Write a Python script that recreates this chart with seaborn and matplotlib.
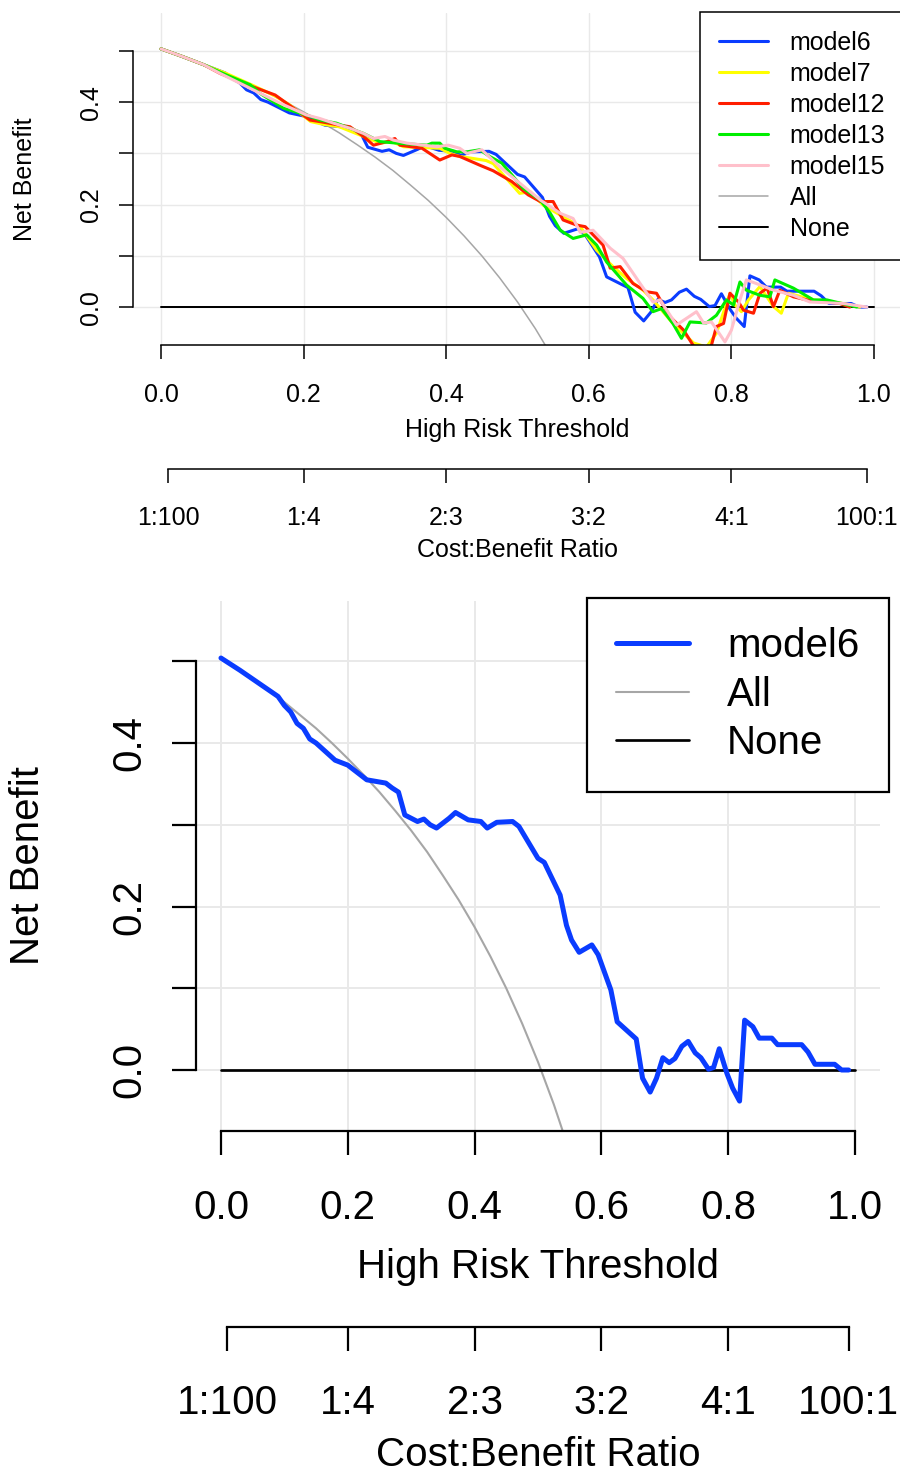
import matplotlib
matplotlib.use("Agg")
import matplotlib.pyplot as plt
import pandas as pd
import seaborn as sns
from matplotlib.lines import Line2D

# Curvas de beneficio neto (umbral, beneficio)
t6 = [0.00, 0.03, 0.06, 0.09, 0.10, 0.11, 0.12, 0.13, 0.14, 0.15, 0.18, 0.20,
      0.23, 0.26, 0.27, 0.28, 0.29, 0.31, 0.32, 0.33, 0.34, 0.36, 0.37, 0.39,
      0.41, 0.42, 0.435, 0.46, 0.47, 0.50, 0.51, 0.535, 0.545, 0.553, 0.565,
      0.585, 0.595, 0.615, 0.625, 0.655, 0.665, 0.677, 0.687, 0.697, 0.707,
      0.716, 0.727, 0.737, 0.748, 0.757, 0.769, 0.777, 0.786, 0.798, 0.807,
      0.818, 0.826, 0.839, 0.849, 0.869, 0.878, 0.916, 0.926, 0.937, 0.968,
      0.979, 0.99]
nb6 = [0.504, 0.489, 0.473, 0.457, 0.446, 0.438, 0.424, 0.418, 0.405, 0.400,
       0.379, 0.373, 0.355, 0.351, 0.345, 0.340, 0.312, 0.304, 0.307, 0.300,
       0.296, 0.308, 0.315, 0.306, 0.304, 0.296, 0.303, 0.304, 0.298, 0.259,
       0.254, 0.214, 0.177, 0.159, 0.144, 0.153, 0.141, 0.098, 0.059, 0.038,
       -0.010, -0.027, -0.010, 0.015, 0.009, 0.014, 0.029, 0.035, 0.021, 0.015,
       0.001, 0.003, 0.026, -0.004, -0.022, -0.038, 0.061, 0.053, 0.039, 0.039,
       0.031, 0.031, 0.022, 0.007, 0.007, 0.000, 0.000]

t7 = [0.00, 0.03, 0.06, 0.09, 0.13, 0.16, 0.18, 0.21, 0.23, 0.25, 0.284,
      0.307, 0.324, 0.34, 0.391, 0.405, 0.419, 0.438, 0.456, 0.466, 0.503,
      0.518, 0.536, 0.588, 0.611, 0.634, 0.653, 0.676, 0.69, 0.718, 0.747,
      0.765, 0.779, 0.798, 0.805, 0.814, 0.824, 0.84, 0.859, 0.87, 0.88,
      0.915, 0.957, 0.98]
nb7 = [0.504, 0.489, 0.473, 0.457, 0.432, 0.412, 0.395, 0.362, 0.356, 0.352,
       0.333, 0.320, 0.323, 0.313, 0.310, 0.300, 0.294, 0.290, 0.286, 0.280,
       0.222, 0.225, 0.199, 0.157, 0.111, 0.079, 0.056, 0.033, 0.014, -0.032,
       -0.070, -0.078, -0.051, 0.027, 0.004, -0.009, 0.014, 0.040, 0.001,
       -0.012, 0.027, 0.014, 0.007, 0.000]

t12 = [0.00, 0.03, 0.06, 0.083, 0.129, 0.16, 0.176, 0.209, 0.223, 0.251,
       0.265, 0.284, 0.298, 0.317, 0.328, 0.335, 0.366, 0.391, 0.408, 0.419,
       0.447, 0.466, 0.492, 0.515, 0.532, 0.55, 0.564, 0.583, 0.595, 0.62,
       0.63, 0.644, 0.662, 0.681, 0.695, 0.714, 0.733, 0.751, 0.77, 0.779,
       0.789, 0.798, 0.81, 0.817, 0.831, 0.84, 0.85, 0.859, 0.868, 0.887,
       0.906, 0.952, 0.966]
nb12 = [0.504, 0.489, 0.473, 0.456, 0.430, 0.414, 0.398, 0.365, 0.362, 0.355,
        0.352, 0.333, 0.316, 0.323, 0.329, 0.316, 0.310, 0.287, 0.297, 0.294,
        0.277, 0.266, 0.245, 0.219, 0.206, 0.206, 0.170, 0.160, 0.157, 0.121,
        0.076, 0.079, 0.046, 0.030, 0.027, -0.019, -0.045, -0.085, -0.085,
        -0.038, -0.032, 0.027, 0.010, -0.006, -0.012, 0.027, 0.037, 0.001,
        0.033, 0.020, 0.014, 0.007, 0.000]

t13 = [0.00, 0.03, 0.06, 0.092, 0.125, 0.139, 0.172, 0.204, 0.223, 0.246,
       0.284, 0.307, 0.331, 0.373, 0.38, 0.391, 0.398, 0.415, 0.429, 0.447,
       0.461, 0.478, 0.508, 0.532, 0.546, 0.56, 0.578, 0.597, 0.611, 0.625,
       0.653, 0.676, 0.69, 0.702, 0.718, 0.73, 0.742, 0.765, 0.779, 0.793,
       0.803, 0.812, 0.821, 0.84, 0.854, 0.861, 0.887, 0.915, 0.934, 0.976]
nb13 = [0.504, 0.489, 0.473, 0.453, 0.434, 0.417, 0.388, 0.375, 0.365, 0.359,
        0.339, 0.323, 0.320, 0.316, 0.320, 0.320, 0.310, 0.303, 0.303, 0.307,
        0.294, 0.281, 0.232, 0.209, 0.183, 0.150, 0.134, 0.141, 0.121, 0.088,
        0.043, 0.017, -0.009, -0.003, -0.032, -0.061, -0.029, -0.031, -0.016,
        0.014, 0.004, 0.049, 0.033, 0.023, 0.020, 0.053, 0.037, 0.014, 0.014,
        0.000]

t15 = [0.00, 0.03, 0.06, 0.083, 0.125, 0.167, 0.204, 0.223, 0.242, 0.265,
       0.284, 0.298, 0.314, 0.326, 0.345, 0.368, 0.387, 0.403, 0.419, 0.429,
       0.45, 0.475, 0.532, 0.56, 0.578, 0.588, 0.606, 0.63, 0.648, 0.672,
       0.69, 0.70, 0.723, 0.751, 0.761, 0.772, 0.791, 0.80, 0.812, 0.821,
       0.835, 0.859, 0.887, 0.91, 0.957, 0.99]
nb15 = [0.504, 0.489, 0.473, 0.456, 0.427, 0.398, 0.375, 0.368, 0.359, 0.349,
        0.339, 0.329, 0.333, 0.326, 0.320, 0.316, 0.313, 0.316, 0.310, 0.300,
        0.307, 0.274, 0.209, 0.183, 0.173, 0.146, 0.150, 0.115, 0.095, 0.046,
        0.010, 0.014, -0.035, -0.009, -0.031, -0.029, -0.068, -0.045, 0.014,
        0.053, 0.046, 0.033, 0.023, 0.010, 0.007, 0.000]

# Tratar a todos / a ninguno
t_all = [0.00, 0.025, 0.05, 0.075, 0.10, 0.125, 0.15, 0.175, 0.20, 0.225,
         0.25, 0.275, 0.30, 0.325, 0.35, 0.375, 0.40, 0.425, 0.45, 0.475,
         0.50, 0.525, 0.55]
nb_all = [0.505, 0.492, 0.479, 0.465, 0.450, 0.434, 0.418, 0.400, 0.381,
          0.361, 0.340, 0.317, 0.293, 0.267, 0.238, 0.208, 0.175, 0.139,
          0.100, 0.057, 0.010, -0.042, -0.100]
t_none = [0.0, 1.0]
nb_none = [0.0, 0.0]

model_names = ["model6", "model7", "model12", "model13", "model15"]
model_colors = ["#0a3cff", "#ffff00", "#ff1e00", "#00ee00", "#ffc0cb"]

x_ticks = [0.0, 0.2, 0.4, 0.6, 0.8, 1.0]
x_labels = ["0.0", "0.2", "0.4", "0.6", "0.8", "1.0"]
y_ticks = [0.0, 0.1, 0.2, 0.3, 0.4, 0.5]
y_labels = ["0.0", "", "0.2", "", "0.4", ""]
ratio_ticks = [0.0099, 0.2, 0.4, 0.6, 0.8, 0.99]
ratio_labels = ["1:100", "1:4", "2:3", "3:2", "4:1", "100:1"]

sns.set_style("ticks")
plt.rcParams["font.family"] = ["Liberation Sans", "DejaVu Sans"]
plt.rcParams["text.color"] = "black"
plt.rcParams["axes.labelcolor"] = "black"

frames = []
for name, t, nb in zip(model_names, [t6, t7, t12, t13, t15],
                       [nb6, nb7, nb12, nb13, nb15]):
    frames.append(pd.DataFrame({"umbral": t, "beneficio": nb, "modelo": name}))
df_models = pd.concat(frames, ignore_index=True)
df_all = pd.DataFrame({"umbral": t_all, "beneficio": nb_all})
df_none = pd.DataFrame({"umbral": t_none, "beneficio": nb_none})

W, H = 900, 1474
fig = plt.figure(figsize=(W / 100, H / 100), dpi=100)


def panel(rect_px, models, fs, lw_model, lw_thin, lw_axis, tick_len,
          xpad, ypad, rpad, sec_loc, xlab_y, rlab_y, ylab_x, leg):
    left, top, width, height = rect_px
    ax = fig.add_axes([left / W, 1 - (top + height) / H, width / W, height / H])

    sub = df_models[df_models["modelo"].isin(models)]
    pal = {n: c for n, c in zip(model_names, model_colors) if n in models}

    sns.lineplot(data=df_all, x="umbral", y="beneficio", color="#a6a6a6",
                 linewidth=lw_thin, estimator=None, ax=ax)
    sns.lineplot(data=df_none, x="umbral", y="beneficio", color="black",
                 linewidth=lw_thin * 1.3, estimator=None, ax=ax)
    sns.lineplot(data=sub, x="umbral", y="beneficio", hue="modelo",
                 hue_order=models, palette=pal, linewidth=lw_model,
                 estimator=None, legend=False, ax=ax)

    ax.set_xlim(-0.04, 1.04)
    ax.set_ylim(-0.074, 0.574)
    ax.set_xticks(x_ticks)
    ax.set_xticklabels(x_labels)
    ax.set_yticks(y_ticks)
    ax.set_yticklabels(y_labels, rotation=90, va="center")
    ax.grid(True, color="#e9e9e9", linewidth=lw_axis * 0.9)
    ax.set_axisbelow(True)

    for s in ["top", "right"]:
        ax.spines[s].set_visible(False)
    ax.spines["left"].set_bounds(0.0, 0.5)
    ax.spines["bottom"].set_bounds(0.0, 1.0)
    for s in ["left", "bottom"]:
        ax.spines[s].set_linewidth(lw_axis)
        ax.spines[s].set_color("black")
    ax.tick_params(axis="x", bottom=True, direction="out", length=tick_len,
                   width=lw_axis, pad=xpad, labelsize=fs, colors="black")
    ax.tick_params(axis="y", left=True, direction="out", length=tick_len,
                   width=lw_axis, pad=ypad, labelsize=fs, colors="black")

    ax.set_xlabel("High Risk Threshold", fontsize=fs)
    ax.xaxis.label.set_va("center")
    ax.xaxis.set_label_coords(0.5, xlab_y)
    ax.set_ylabel("Net Benefit", fontsize=fs)
    ax.yaxis.label.set_va("center")
    ax.yaxis.set_label_coords(ylab_x, 0.5)

    sec = ax.secondary_xaxis(sec_loc, functions=(lambda v: v, lambda v: v))
    sec.set_xticks(ratio_ticks)
    sec.set_xticklabels(ratio_labels)
    sec.spines["bottom"].set_bounds(ratio_ticks[0], ratio_ticks[-1])
    sec.spines["bottom"].set_linewidth(lw_axis)
    sec.spines["bottom"].set_color("black")
    sec.tick_params(axis="x", bottom=True, direction="out", length=tick_len,
                    width=lw_axis, pad=rpad, labelsize=fs, colors="black")
    sec.set_xlabel("Cost:Benefit Ratio", fontsize=fs)
    sec.xaxis.label.set_va("center")
    sec.xaxis.set_label_coords(0.5, rlab_y, transform=ax.transAxes)

    handles = []
    labels = []
    for n, c in zip(model_names, model_colors):
        if n in models:
            handles.append(Line2D([], [], color=c, linewidth=lw_model))
            labels.append(n)
    handles.append(Line2D([], [], color="#a6a6a6", linewidth=lw_thin))
    labels.append("All")
    handles.append(Line2D([], [], color="black", linewidth=lw_thin * 1.3))
    labels.append("None")

    anchor, loc, lfs, hl, htp, bp, ls, flw = leg
    lg = fig.legend(handles, labels, loc=loc,
                    bbox_to_anchor=(anchor[0] / W, 1 - anchor[1] / H),
                    fontsize=lfs, handlelength=hl, handletextpad=htp,
                    borderpad=bp, labelspacing=ls, borderaxespad=0,
                    fancybox=False, framealpha=1, edgecolor="black")
    lg.get_frame().set_linewidth(flw)
    return ax


# Panel superior: todos los modelos
panel((132.5, 13, 770, 332), model_names, 18, 2.2, 1.1, 1.1, 10,
      17, 11, 16.5, -0.3737, -0.256, -0.618, -0.1396,
      ((700, 12), "upper left", 18, 1.96, 0.88, 0.75, 0.28, 1.1))

# Panel inferior: solo model6
panel((195.6, 600.8, 684.7, 529.7), ["model6"], 29, 3.6, 1.5, 1.6, 17,
      25, 17, 24, -0.371, -0.2577, -0.6126, -0.245,
      ((587, 598), "upper left", 29, 1.8, 0.95, 0.73, 0.26, 1.6))

plt.savefig("out.png", dpi=100)
